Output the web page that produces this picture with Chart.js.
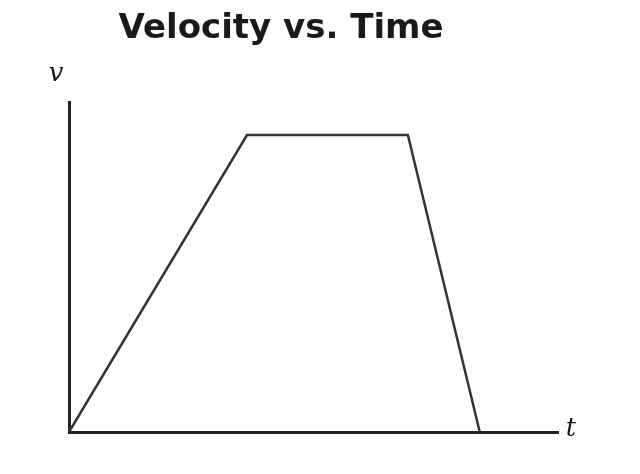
<!DOCTYPE html>
<html>
<head>
<meta charset="utf-8">
<script src="https://cdn.jsdelivr.net/npm/chart.js@4/dist/chart.umd.min.js"></script>
<style>
html,body{margin:0;padding:0;background:#fff;}
#wrap{width:640px;height:474px;}
</style>
</head>
<body>
<div id="wrap"><canvas id="c" width="640" height="474"></canvas></div>
<script>
const chartTitle = "Velocity vs. Time";
const xAxisLabel = "t";
const yAxisLabel = "v";
const times = [0, 3.64, 6.93, 8.4];
const velocities = [0, 9, 9, 0];

const points = times.map((t, i) => ({x: t, y: velocities[i]}));

const labelPlugin = {
  id: 'labels',
  afterDraw(chart) {
    const ctx = chart.ctx;
    const a = chart.chartArea;
    ctx.save();
    ctx.fillStyle = '#1a1a1a';
    ctx.font = 'bold 34px "DejaVu Sans"';
    ctx.textAlign = 'center';
    ctx.textBaseline = 'alphabetic';
    ctx.fillText(chartTitle, 281, 38);
    ctx.font = 'italic 26px "DejaVu Serif"';
    ctx.textAlign = 'center';
    ctx.textBaseline = 'middle';
    ctx.fillText(yAxisLabel, a.left - 13, a.top - 28);
    ctx.fillText(xAxisLabel, a.right + 13, a.bottom - 3);
    ctx.restore();
  }
};

new Chart(document.getElementById('c'), {
  type: 'scatter',
  data: {
    datasets: [{
      data: points,
      showLine: true,
      borderColor: '#333',
      borderWidth: 2.5,
      pointRadius: 0,
      fill: false,
      tension: 0
    }]
  },
  options: {
    responsive: false,
    animation: false,
    layout: {padding: {top: 102, left: 69, right: 82, bottom: 42}},
    plugins: {legend: {display: false}, tooltip: {enabled: false}, title: {display: false}},
    scales: {
      x: {
        type: 'linear', min: 0, max: 10,
        grid: {display: false, drawTicks: false},
        ticks: {display: false},
        border: {display: true, color: '#222', width: 3}
      },
      y: {
        type: 'linear', min: 0, max: 10,
        grid: {display: false, drawTicks: false},
        ticks: {display: false},
        border: {display: true, color: '#222', width: 3}
      }
    }
  },
  plugins: [labelPlugin]
});
</script>
</body>
</html>
